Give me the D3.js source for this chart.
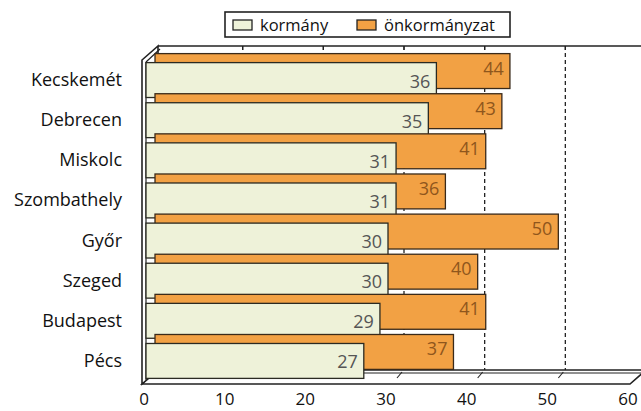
<!DOCTYPE html>
<html>
<head>
<meta charset="utf-8">
<script src="https://cdn.jsdelivr.net/npm/d3@7"></script>
<style>
  body { margin: 0; background: #fff; }
  text { font-family: "Open Sans", sans-serif; }
</style>
</head>
<body>
<div id="chart"></div>
<script>
var cities = ['Kecskemét', 'Debrecen', 'Miskolc', 'Szombathely', 'Győr', 'Szeged', 'Budapest', 'Pécs'];
var kormany = [36, 35, 31, 31, 30, 30, 29, 27];
var onkormanyzat = [44, 43, 41, 36, 50, 40, 41, 37];
var seriesNames = ['kormány', 'önkormányzat'];
var ticks = [0, 10, 20, 30, 40, 50, 60];

var green = '#eef2d9', orange = '#f2a144', ink = '#222';
// depth of the box and of the back bar row
var wallDx = 16, wallDy = -14, barDx = 9, barDy = -9;

var x = d3.scaleLinear().domain([0, 60]).range([146, 630]);
var y = d3.scaleBand().domain(cities).range([60, 381]).paddingInner(0.13).paddingOuter(0.065);

var rows = cities.map(function(c, i){ return {city: c, k: kormany[i], o: onkormanyzat[i]}; });

var svg = d3.select('#chart')
  .append('svg')
  .attr('width', 641)
  .attr('height', 411);

var frontTop = 60, floorY = 384;
var x0 = x(0) - 4;

// back wall gridlines
svg.selectAll('line.grid')
  .data(ticks.slice(1))
  .enter()
    .append('line')
    .classed('grid', true)
    .attr('x1', function(d){ return x(d) + wallDx; })
    .attr('x2', function(d){ return x(d) + wallDx; })
    .attr('y1', frontTop + wallDy)
    .attr('y2', floorY + wallDy)
    .attr('stroke', ink)
    .attr('stroke-width', 1.3)
    .attr('stroke-dasharray', '4,3');

// top edge of the back wall with small ticks
svg.append('line')
  .attr('x1', x0 + wallDx).attr('x2', 641)
  .attr('y1', frontTop + wallDy).attr('y2', frontTop + wallDy)
  .attr('stroke', ink).attr('stroke-width', 1.6);

svg.selectAll('line.toptick')
  .data(ticks.slice(1))
  .enter()
    .append('line')
    .attr('x1', function(d){ return x(d) + wallDx; })
    .attr('x2', function(d){ return x(d) + wallDx; })
    .attr('y1', frontTop + wallDy)
    .attr('y2', frontTop + wallDy + 4)
    .attr('stroke', ink).attr('stroke-width', 1.2);

// floor
svg.append('path')
  .attr('d', 'M' + x0 + ',' + floorY +
    'L' + (x0 + wallDx) + ',' + (floorY + wallDy) +
    'L' + (x(60) + wallDx) + ',' + (floorY + wallDy) +
    'L' + x(60) + ',' + floorY + 'Z')
  .attr('fill', '#fff').attr('stroke', ink).attr('stroke-width', 1.6);

svg.append('line')
  .attr('x1', x0 + wallDx - 3).attr('x2', x(60) + wallDx - 3)
  .attr('y1', floorY + wallDy + 3).attr('y2', floorY + wallDy + 3)
  .attr('stroke', ink).attr('stroke-width', 1);

svg.selectAll('line.floortick')
  .data(ticks.slice(1, 6))
  .enter()
    .append('line')
    .attr('x1', function(d){ return x(d) + wallDx - 7; })
    .attr('x2', function(d){ return x(d) + wallDx - 2; })
    .attr('y1', floorY - 6)
    .attr('y2', floorY + wallDy + 2)
    .attr('stroke', ink).attr('stroke-width', 1.1);

// left wall
svg.append('path')
  .attr('d', 'M' + x0 + ',' + floorY +
    'L' + x0 + ',' + frontTop +
    'L' + (x0 + wallDx) + ',' + (frontTop + wallDy) +
    'L' + (x0 + wallDx) + ',' + (floorY + wallDy) + 'Z')
  .attr('fill', '#fff').attr('stroke', ink).attr('stroke-width', 1.6);

svg.append('line')
  .attr('x1', x0 + 4).attr('x2', x0 + 4)
  .attr('y1', frontTop + 2).attr('y2', floorY - 4)
  .attr('stroke', ink).attr('stroke-width', 1.2);
svg.append('line')
  .attr('x1', x0 + 4).attr('x2', x0 + wallDx + 2)
  .attr('y1', frontTop + 2).attr('y2', frontTop + wallDy + 3)
  .attr('stroke', ink).attr('stroke-width', 1.2);

// bars, back row first
var g = svg.selectAll('g.row')
  .data(rows)
  .enter()
    .append('g')
    .classed('row', true);

g.append('rect')
  .attr('x', x(0) + barDx)
  .attr('y', function(d){ return y(d.city) + barDy; })
  .attr('width', function(d){ return x(d.o) - x(0); })
  .attr('height', y.bandwidth())
  .attr('fill', orange)
  .attr('stroke', '#3a2a1a')
  .attr('stroke-width', 1.3);

g.append('text')
  .attr('x', function(d){ return x(d.o) + barDx - 6; })
  .attr('y', function(d){ return y(d.city) + barDy + 21; })
  .attr('text-anchor', 'end')
  .attr('font-size', 18)
  .attr('fill', '#8f561c')
  .text(function(d){ return d.o; });

g.append('rect')
  .attr('x', x(0))
  .attr('y', function(d){ return y(d.city); })
  .attr('width', function(d){ return x(d.k) - x(0); })
  .attr('height', y.bandwidth())
  .attr('fill', green)
  .attr('stroke', '#2a2a22')
  .attr('stroke-width', 1.3);

g.append('text')
  .attr('x', function(d){ return x(d.k) - 6; })
  .attr('y', function(d){ return y(d.city) + 25; })
  .attr('text-anchor', 'end')
  .attr('font-size', 18)
  .attr('fill', '#555')
  .text(function(d){ return d.k; });

// category labels
svg.selectAll('text.city')
  .data(cities)
  .enter()
    .append('text')
    .classed('city', true)
    .attr('x', 122)
    .attr('y', function(d){ return y(d) + y.bandwidth() / 2 + 6; })
    .attr('text-anchor', 'end')
    .attr('font-size', 18)
    .attr('fill', '#111')
    .text(function(d){ return d; });

// x axis labels
svg.selectAll('text.tick')
  .data(ticks)
  .enter()
    .append('text')
    .classed('tick', true)
    .attr('x', function(d){ return x(d) - 2; })
    .attr('y', 405)
    .attr('text-anchor', 'middle')
    .attr('font-size', 17)
    .attr('fill', '#111')
    .text(function(d){ return d; });

// legend
var legend = svg.append('g');
legend.append('rect')
  .attr('x', 225).attr('y', 12).attr('width', 285).attr('height', 25)
  .attr('fill', '#fff').attr('stroke', ink).attr('stroke-width', 1.6);

var legendX = [233, 357];
var legendFill = [green, orange];
seriesNames.forEach(function(name, i){
  legend.append('rect')
    .attr('x', legendX[i]).attr('y', 20).attr('width', 19).attr('height', 10)
    .attr('fill', legendFill[i]).attr('stroke', ink).attr('stroke-width', 1.3);
  legend.append('text')
    .attr('x', legendX[i] + 27).attr('y', 31)
    .attr('font-size', 16.5)
    .attr('fill', '#111')
    .text(name);
});
</script>
</body>
</html>
